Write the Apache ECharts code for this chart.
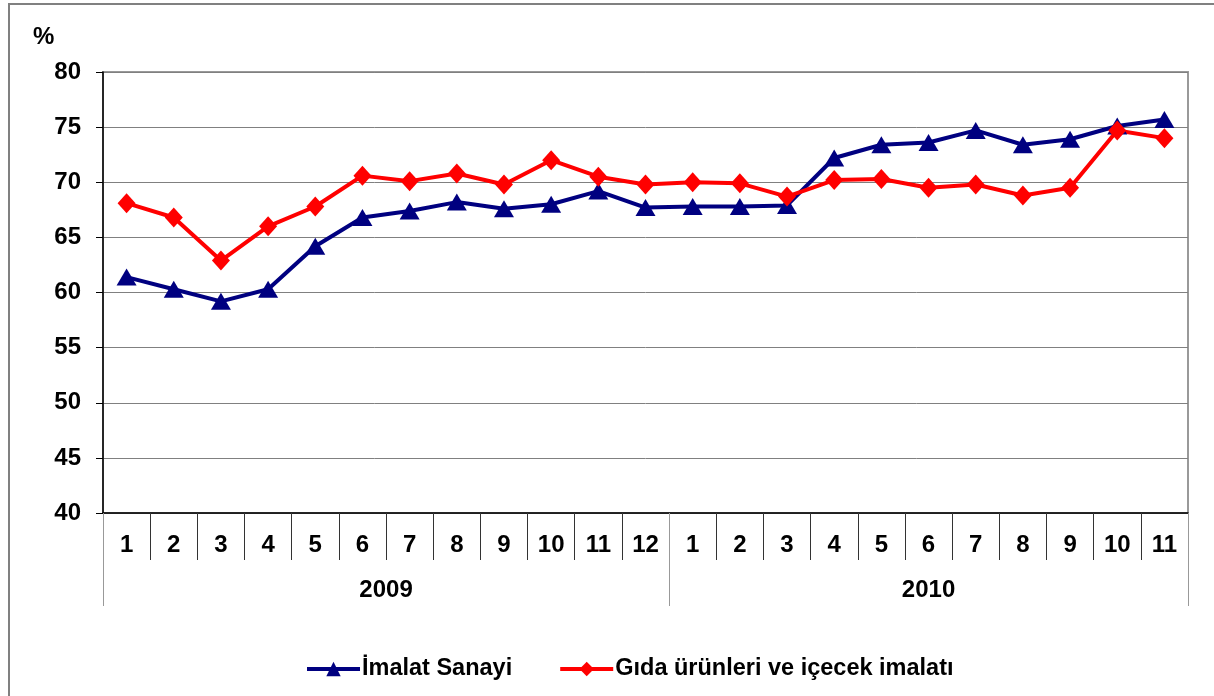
<!DOCTYPE html>
<html>
<head>
<meta charset="utf-8">
<script src="https://cdn.jsdelivr.net/npm/echarts@6/dist/echarts.min.js"></script>
<style>
  html, body { margin: 0; padding: 0; background: #fff; }
  #contain {
    position: absolute;
    left: 0; top: 0;
    width: 1214px;
    height: 696px;
  }
  #frame {
    position: absolute;
    left: 8px; top: 3px;
    width: 1206px; height: 693px;
    border-top: 2px solid #808080;
    border-left: 2px solid #808080;
    box-sizing: border-box;
  }
</style>
</head>
<body>
<div id="frame"></div>
<div id="contain"></div>
<script>
const months = ['1', '2', '3', '4', '5', '6', '7', '8', '9', '10', '11', '12',
  '1', '2', '3', '4', '5', '6', '7', '8', '9', '10', '11']
const years = ['2009', '2010']
// year position on the year axis (in category units) and the separators between years
const yearCenters = [6, 17.5]
const yearBounds = [0, 12, 23]

const imalat = [61.4, 60.3, 59.2, 60.3, 64.2, 66.8, 67.4, 68.2, 67.6, 68.0, 69.2, 67.7,
  67.8, 67.8, 67.9, 72.2, 73.4, 73.6, 74.7, 73.4, 73.9, 75.1, 75.7]
const gida = [68.1, 66.8, 62.9, 66.0, 67.8, 70.6, 70.1, 70.8, 69.8, 72.0, 70.5, 69.8,
  70.0, 69.9, 68.7, 70.2, 70.3, 69.5, 69.8, 68.8, 69.5, 74.7, 74.0]

const font = 'Liberation Sans, Arial, sans-serif'
const labelSize = 24

const chart = echarts.init(document.getElementById('contain'))

const option = {
  animation: false,
  title: {
    text: '%',
    left: 28,
    top: 20,
    textStyle: { fontFamily: font, fontSize: labelSize, fontWeight: 'bold', color: '#000' }
  },
  grid: {
    left: 103,
    right: 26,
    top: 72,
    bottom: 183,
    show: true,
    borderColor: '#999',
    borderWidth: 2
  },
  legend: {
    left: 300,
    top: 652,
    itemWidth: 53,
    itemHeight: 18,
    itemGap: 46,
    lineStyle: { width: 4 },
    textStyle: { fontFamily: font, fontSize: 23.5, fontWeight: 'bold', color: '#000', padding: [0, 0, 0, -3] },
    data: ['İmalat Sanayi', 'Gıda ürünleri ve içecek imalatı']
  },
  xAxis: [
    {
      type: 'category',
      data: months,
      boundaryGap: true,
      position: 'bottom',
      axisLine: { lineStyle: { color: '#000', width: 1.5 } },
      axisTick: { show: true, length: 47, lineStyle: { color: '#333', width: 1 } },
      axisLabel: {
        interval: 0,
        margin: 20,
        fontFamily: font,
        fontSize: labelSize,
        fontWeight: 'bold',
        color: '#000'
      },
      splitLine: { show: false }
    },
    {
      type: 'value',
      min: 0,
      max: 23,
      position: 'bottom',
      offset: 0,
      axisLine: { show: false },
      axisTick: {
        show: true,
        customValues: yearBounds,
        length: 93,
        lineStyle: { color: '#999', width: 1 }
      },
      axisLabel: {
        customValues: yearCenters,
        margin: 65,
        fontFamily: font,
        fontSize: labelSize,
        fontWeight: 'bold',
        color: '#000',
        formatter: function (v) {
          return years[yearCenters.indexOf(v)]
        }
      },
      splitLine: { show: false }
    }
  ],
  yAxis: {
    type: 'value',
    min: 40,
    max: 80,
    interval: 5,
    axisLine: { show: true, lineStyle: { color: '#000', width: 1.5 } },
    axisTick: { show: true, length: 7, lineStyle: { color: '#000' } },
    axisLabel: {
      margin: 22,
      fontFamily: font,
      fontSize: labelSize,
      fontWeight: 'bold',
      color: '#000'
    },
    splitLine: { show: true, lineStyle: { color: '#808080', width: 1 } }
  },
  series: [
    {
      name: 'İmalat Sanayi',
      type: 'line',
      data: imalat,
      symbol: 'triangle',
      symbolSize: [20, 17],
      lineStyle: { color: '#000080', width: 4 },
      itemStyle: { color: '#000080' }
    },
    {
      name: 'Gıda ürünleri ve içecek imalatı',
      type: 'line',
      data: gida,
      symbol: 'diamond',
      symbolSize: [18, 20],
      lineStyle: { color: '#ff0000', width: 4 },
      itemStyle: { color: '#ff0000' }
    }
  ]
}

option && chart.setOption(option)
</script>
</body>
</html>
